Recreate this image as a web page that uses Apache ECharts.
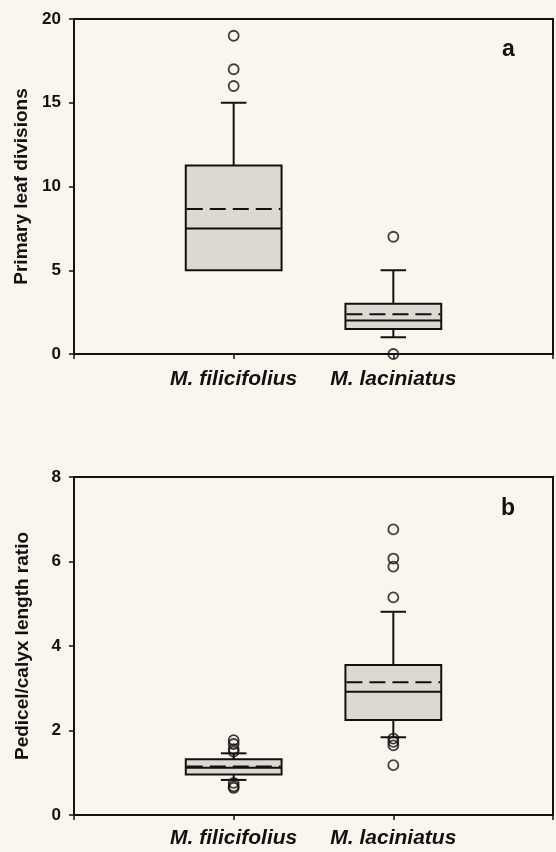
<!DOCTYPE html>
<html>
<head>
<meta charset="utf-8">
<script src="https://cdn.jsdelivr.net/npm/echarts@6/dist/echarts.min.js"></script>
<style>
  html, body { margin: 0; padding: 0; background: #faf6ee; }
  #chart { width: 556px; height: 852px; }
</style>
</head>
<body>
<div id="chart"></div>
<script>
// species, placed at x = 1 and x = 2 on a 0..3 value axis
const species = ['M. filicifolius', 'M. laciniatus'];
const speciesX = [1, 2];

// panel a: primary leaf divisions
const leafLow = [5, 1];
const leafQ1 = [5, 1.5];
const leafMedian = [7.5, 2];
const leafQ3 = [11.25, 3];
const leafHigh = [15, 5];
const leafMean = [8.65, 2.37];
const leafOutliers = [[16, 17, 19], [7, 0]];
const leafTicks = [0, 5, 10, 15, 20];

// panel b: pedicel/calyx length ratio
const ratioLow = [0.83, 1.84];
const ratioQ1 = [0.96, 2.25];
const ratioMedian = [1.12, 2.92];
const ratioQ3 = [1.32, 3.55];
const ratioHigh = [1.46, 4.81];
const ratioMean = [1.15, 3.14];
const ratioOutliers = [[1.5, 1.56, 1.68, 1.77, 0.64, 0.68, 0.76], [5.15, 5.88, 6.07, 6.76, 1.18, 1.65, 1.73, 1.81]];
const ratioTicks = [0, 2, 4, 6, 8];

const INK = '#111';
const BOX_FILL = '#dbd9d2';
const FONT = "'Liberation Sans', Arial, sans-serif";
const BOX_WIDTH = 0.6;   // in x-axis units
const CAP_WIDTH = 0.16;

function boxRows(low, q1, med, q3, high, mean) {
  return speciesX.map((x, i) => [x, low[i], q1[i], med[i], q3[i], high[i], mean[i]]);
}

function outlierPoints(list) {
  const pts = [];
  list.forEach((vals, i) => vals.forEach(v => pts.push([speciesX[i], v])));
  return pts;
}

function seg(x1, y1, x2, y2, dash) {
  return {
    type: 'line',
    shape: { x1, y1, x2, y2 },
    style: { stroke: INK, lineWidth: 2, lineDash: dash || null }
  };
}

function renderBox(params, api) {
  const x = api.value(0);
  const pLow = api.coord([x, api.value(1)]);
  const pQ1 = api.coord([x, api.value(2)]);
  const pMed = api.coord([x, api.value(3)]);
  const pQ3 = api.coord([x, api.value(4)]);
  const pHigh = api.coord([x, api.value(5)]);
  const pMean = api.coord([x, api.value(6)]);
  const hb = api.size([BOX_WIDTH, 0])[0] / 2;
  const hc = api.size([CAP_WIDTH, 0])[0] / 2;
  const cx = pMed[0];
  const kids = [];
  if (pHigh[1] < pQ3[1] - 0.5) {
    kids.push(seg(cx, pQ3[1], cx, pHigh[1]));
    kids.push(seg(cx - hc, pHigh[1], cx + hc, pHigh[1]));
  }
  if (pLow[1] > pQ1[1] + 0.5) {
    kids.push(seg(cx, pQ1[1], cx, pLow[1]));
    kids.push(seg(cx - hc, pLow[1], cx + hc, pLow[1]));
  }
  kids.push({
    type: 'rect',
    shape: { x: cx - hb, y: pQ3[1], width: hb * 2, height: pQ1[1] - pQ3[1] },
    style: { fill: BOX_FILL, stroke: INK, lineWidth: 2 }
  });
  kids.push(seg(cx - hb, pMed[1], cx + hb, pMed[1]));
  kids.push(seg(cx - hb + 1, pMean[1], cx + hb - 1, pMean[1], [16, 7]));
  return { type: 'group', children: kids };
}

function xAxisFor(gridIndex, labelMargin) {
  return {
    type: 'value', gridIndex, min: 0, max: 3, interval: 1,
    axisLine: { lineStyle: { color: INK, width: 2 } },
    axisTick: { inside: false, length: 5, lineStyle: { color: INK, width: 1.5 } },
    splitLine: { show: false },
    axisLabel: {
      margin: labelMargin, color: INK, fontFamily: FONT, fontSize: 21,
      fontWeight: 'bold', fontStyle: 'italic',
      formatter: v => {
        const i = speciesX.indexOf(v);
        return i >= 0 ? species[i] : '';
      }
    }
  };
}

function yAxisFor(gridIndex, name, ticks) {
  return {
    type: 'value', gridIndex, name,
    min: ticks[0], max: ticks[ticks.length - 1], interval: ticks[1] - ticks[0],
    nameLocation: 'middle', nameGap: 42,
    nameTextStyle: { color: INK, fontFamily: FONT, fontSize: 19, fontWeight: 'bold' },
    axisLine: { show: true, lineStyle: { color: INK, width: 2 } },
    axisTick: { show: true, inside: false, length: 5, lineStyle: { color: INK, width: 1.5 } },
    splitLine: { show: false },
    axisLabel: { margin: 13, color: INK, fontFamily: FONT, fontSize: 17, fontWeight: 'bold' }
  };
}

function boxSeries(idx, rows) {
  return {
    type: 'custom', xAxisIndex: idx, yAxisIndex: idx, clip: false,
    renderItem: renderBox,
    encode: { x: 0, y: [1, 2, 3, 4, 5, 6] },
    data: rows, z: 2
  };
}

function outlierSeries(idx, pts) {
  return {
    type: 'scatter', xAxisIndex: idx, yAxisIndex: idx, clip: false,
    symbol: 'circle', symbolSize: 10,
    itemStyle: { color: 'rgba(0,0,0,0)', borderColor: INK, borderWidth: 1.8 },
    data: pts, z: 3
  };
}

const chart = echarts.init(document.getElementById('chart'), null, { renderer: 'canvas' });

chart.setOption({
  backgroundColor: '#faf6ee',
  animation: false,
  grid: [
    { left: 74, right: 1, top: 19, height: 335, show: true, borderColor: INK, borderWidth: 2 },
    { left: 74, right: 1, top: 477, height: 338, show: true, borderColor: INK, borderWidth: 2 }
  ],
  xAxis: [xAxisFor(0, 15), xAxisFor(1, 13)],
  yAxis: [
    yAxisFor(0, 'Primary leaf divisions', leafTicks),
    yAxisFor(1, 'Pedicel/calyx length ratio', ratioTicks)
  ],
  graphic: [
    { type: 'text', left: 502, top: 38, style: { text: 'a', fill: INK, font: 'bold 23px ' + FONT } },
    { type: 'text', left: 501, top: 497, style: { text: 'b', fill: INK, font: 'bold 23px ' + FONT } }
  ],
  series: [
    boxSeries(0, boxRows(leafLow, leafQ1, leafMedian, leafQ3, leafHigh, leafMean)),
    outlierSeries(0, outlierPoints(leafOutliers)),
    boxSeries(1, boxRows(ratioLow, ratioQ1, ratioMedian, ratioQ3, ratioHigh, ratioMean)),
    outlierSeries(1, outlierPoints(ratioOutliers))
  ]
});
</script>
</body>
</html>
